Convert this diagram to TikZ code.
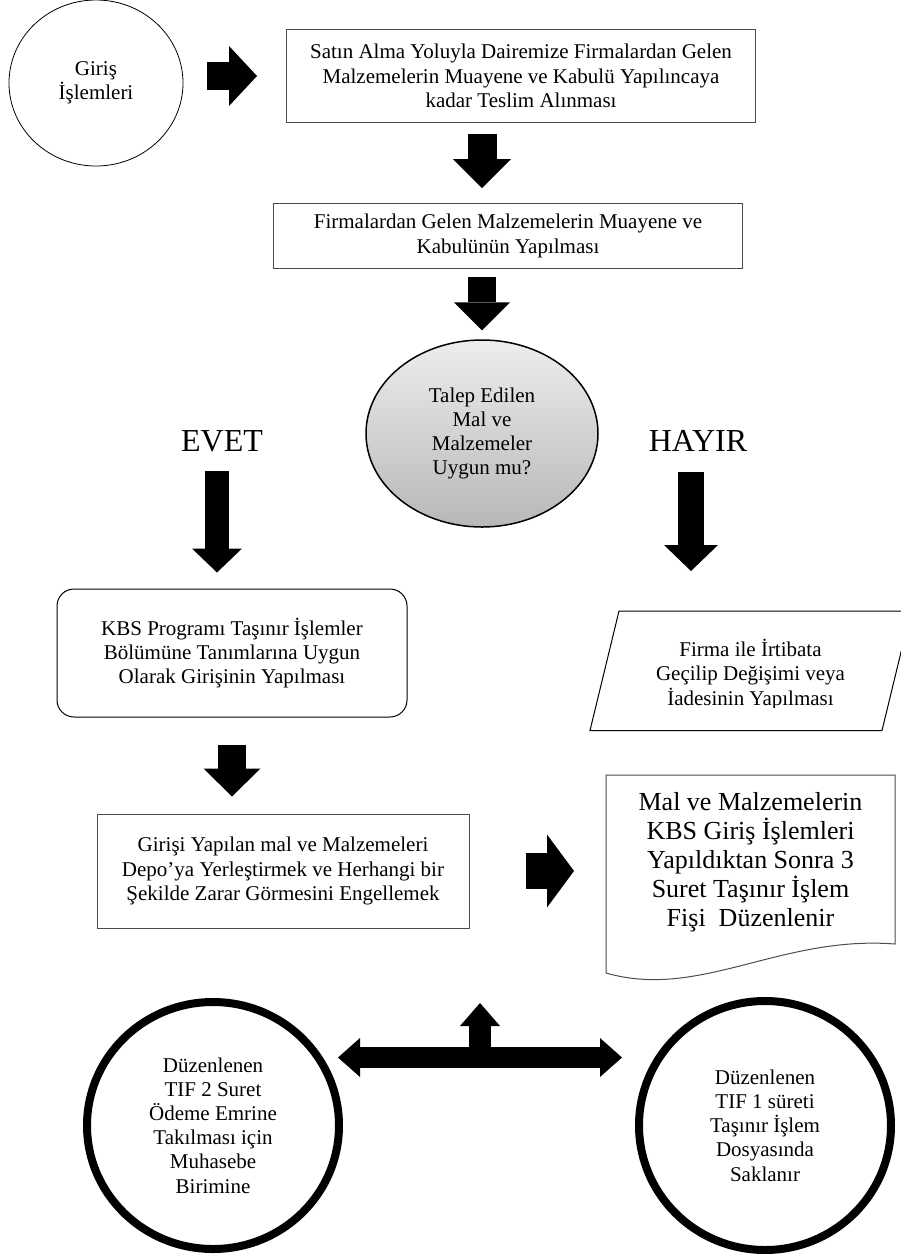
\documentclass[tikz,border=0pt]{standalone}
\usepackage{fontspec}
\setmainfont{Liberation Serif}
\usetikzlibrary{arrows.meta, positioning, shapes.geometric, calc}
\tikzset{
  every picture/.style={line width=0.8pt},
  every node/.style={font=\fontsize{21}{24.2}\selectfont, align=center, inner sep=0pt},
  kutu/.style={draw=black!70, rectangle, line width=1pt},
  yuvarlak/.style={draw, rectangle, rounded corners=17pt, line width=1pt},
  karar/.style={draw, ellipse, line width=1.5pt, top color=black!7, bottom color=black!28},
  daire/.style={draw, ellipse, line width=8pt},
  etiket/.style={font=\fontsize{32}{36}\selectfont},
  blok/.style n args={3}{line width=#1, -{Triangle[width=#2, length=#3, line width=0pt]}},
  cift/.style={line width=21pt, {Triangle[width=39pt, length=22pt, line width=0pt]}-{Triangle[width=39pt, length=22pt, line width=0pt]}}
}

\begin{document}
\begin{tikzpicture}[x=1pt, y=-1pt]
    \useasboundingbox (0,0) rectangle (901,1254);

    \node[draw, ellipse, minimum width=174pt, minimum height=166pt] (giris) at (96,83) {Giriş\\İşlemleri};
    \node[kutu, minimum width=469pt, minimum height=93pt] (satin) at (521,76)
      {Satın Alma Yoluyla Dairemize Firmalardan Gelen\\Malzemelerin Muayene ve Kabulü Yapılıncaya\\kadar Teslim Alınması};
    \node[kutu, minimum width=469pt, minimum height=65pt] (muayene) at (508,236)
      {Firmalardan Gelen Malzemelerin Muayene ve\\Kabulünün Yapılması};
    \node[karar, minimum width=232pt, minimum height=187pt] (uygun) at (482,433.5)
      {Talep Edilen\\Mal ve\\Malzemeler\\Uygun mu?};

    \node[etiket, anchor=base] (evet) at (222,451) {EVET};
    \node[etiket, anchor=base] (hayir) at (698,451) {HAYIR};

    \node[yuvarlak, minimum width=350pt, minimum height=128pt] (kbs) at (232,653)
      {KBS Programı Taşınır İşlemler\\Bölümüne Tanımlarına Uygun\\Olarak Girişinin Yapılması};

    \begin{scope}
      \clip (580,600) rectangle (901,707);
      \node[minimum width=292pt, minimum height=112pt, outer sep=0pt] (firma) at (750.5,674.5)
        {Firma ile İrtibata\\Geçilip Değişimi veya\\İadesinin Yapılması};
    \end{scope}
    \draw[line width=1pt] ([shift={(14.5,-7.5)}]firma.north west) -- ([shift={(14.5,-7.5)}]firma.north east)
      -- ([xshift=-14.5pt]firma.south east) -- ([xshift=-14.5pt]firma.south west) -- cycle;

    \node[kutu, minimum width=372pt, minimum height=114pt] (girisi) at (283,871)
      {Girişi Yapılan mal ve Malzemeleri\\Depo’ya Yerleştirmek ve Herhangi bir\\Şekilde Zarar Görmesini Engellemek};

    \node[font=\fontsize{26}{29}\selectfont, minimum width=289pt, outer sep=0pt] (belge) at (750.5,862)
      {Mal ve Malzemelerin\\KBS Giriş İşlemleri\\Yapıldıktan Sonra 3\\Suret Taşınır İşlem\\Fişi~ Düzenlenir};
    \draw[draw=black!70, line width=1pt] (belge.west |- 0,775) -- (belge.east |- 0,775) -- (belge.east |- 0,944)
      .. controls (780,935) and (700,1000) .. (belge.west |- 0,973) -- cycle;

    \node[daire, minimum width=252pt, minimum height=247pt] (muhasebe) at (213,1125.5)
      {Düzenlenen\\TIF 2 Suret\\Ödeme Emrine\\Takılması için\\Muhasebe\\Birimine};
    \node[daire, minimum width=252pt, minimum height=249pt, right=292pt of muhasebe] (saklanir)
      {Düzenlenen\\TIF 1 süreti\\Taşınır İşlem\\Dosyasında\\Saklanır};

    \coordinate (evetok) at ([xshift=-5pt]evet.south);
    \coordinate (hayirok) at ([xshift=-7pt]hayir.south);
    \coordinate (kavsak) at (480,1057.5);

    \draw[blok={28pt}{60pt}{28pt}, shorten <=24pt, shorten >=29pt] (giris.east |- satin.west) -- (satin.west);
    \draw[blok={29pt}{58pt}{29pt}, shorten <=11pt, shorten >=15pt] (uygun.north |- satin.south) -- (uygun.north |- muayene.north);
    \draw[blok={28pt}{56pt}{28pt}, shorten <=8pt, shorten >=9pt] (uygun.north |- muayene.south) -- (uygun.north);
    \draw[blok={24pt}{50pt}{24pt}, shorten <=19pt, shorten >=16pt] (evetok) -- (evetok |- kbs.north);
    \draw[blok={26pt}{54pt}{26pt}, shorten <=21pt, shorten >=47.5pt] (hayirok) -- (hayirok |- firma.north);
    \draw[blok={28pt}{57pt}{28pt}, shorten <=27pt, shorten >=17pt] (kbs.south) -- (kbs.south |- girisi.north);
    \draw[blok={36pt}{73pt}{27pt}, shorten <=56pt, shorten >=32pt] (girisi.east) -- (girisi.east -| belge.west);

    \draw[cift] ([xshift=-142pt]kavsak) -- ([xshift=142pt]kavsak);
    \draw[blok={22pt}{40pt}{23pt}] (kavsak) -- ++(0,-54.5);
\end{tikzpicture}
\end{document}
